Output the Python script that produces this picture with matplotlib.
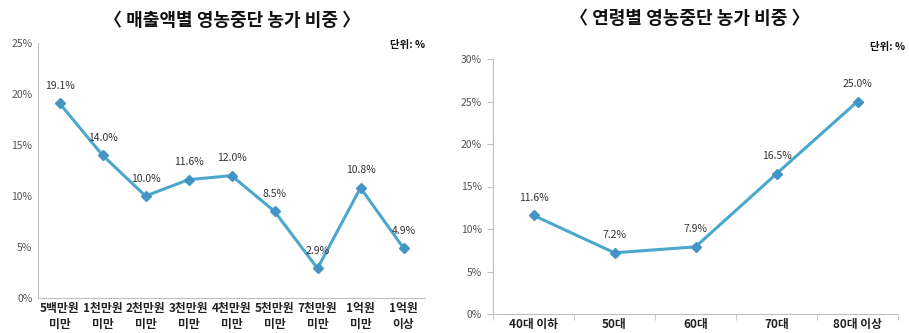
import matplotlib
matplotlib.use("Agg")
import matplotlib.pyplot as plt
from matplotlib.ticker import FuncFormatter

plt.rcParams['font.family'] = ['Noto Sans CJK KR', 'DejaVu Sans']

sales_cats = ["5백만원\n미만", "1천만원\n미만", "2천만원\n미만", "3천만원\n미만", "4천만원\n미만",
              "5천만원\n미만", "7천만원\n미만", "1억원\n미만", "1억원\n이상"]
sales_vals = [19.1, 14.0, 10.0, 11.6, 12.0, 8.5, 2.9, 10.8, 4.9]

age_cats = ["40대 이하", "50대", "60대", "70대", "80대 이상"]
age_vals = [11.6, 7.2, 7.9, 16.5, 25.0]

LINE = "#4BA8CC"
MARK = "#4494C6"
TICK = "#555555"

fig = plt.figure(figsize=(9.09, 3.33), dpi=100)
fig.patch.set_facecolor("white")

def style(ax, ymax, step, ticks_x):
    for s in ["top", "right"]:
        ax.spines[s].set_visible(False)
    ax.spines["left"].set_color("#BFBFBF")
    ax.spines["bottom"].set_color("#BFBFBF")
    ax.set_ylim(0, ymax)
    ax.set_yticks(range(0, ymax + 1, step))
    ax.yaxis.set_major_formatter(FuncFormatter(lambda v, p: f"{int(v)}%"))
    ax.tick_params(axis="y", labelsize=7.5, colors="#BFBFBF", labelcolor=TICK,
                   length=(4 if ticks_x else 0), pad=4)
    ax.tick_params(axis="x", labelsize=8.5, labelcolor="#222222", colors="#BFBFBF",
                   length=0, pad=3)
    for lbl in ax.get_xticklabels():
        lbl.set_fontweight("bold")

# Left chart
ax1 = fig.add_axes([38/909, 1-298/333, (425-38)/909, (298-43)/333])
x1 = list(range(len(sales_cats)))
ax1.plot(x1, sales_vals, color=LINE, lw=2.2, marker="D", ms=5.5,
         markerfacecolor=MARK, markeredgecolor=MARK, zorder=3)
ax1.set_xlim(-0.5, len(sales_cats) - 0.5)
ax1.set_xticks(x1)
ax1.set_xticklabels(sales_cats, linespacing=1.3)
style(ax1, 25, 5, False)
for xi, v in zip(x1, sales_vals):
    ax1.annotate(f"{v:.1f}%", (xi, v), xytext=(0, 9), textcoords="offset points",
                 ha="center", va="bottom", fontsize=7.5, color="#333333")
fig.text(232/909, 1-20/333, "〈 매출액별 영농중단 농가 비중 〉", ha="center", va="center",
         fontsize=13, fontweight="bold", color="#111111")
fig.text(425/909, 1-45/333, "단위: %", ha="right", va="center", fontsize=7.5,
         fontweight="bold", color="#111111")

# Right chart
ax2 = fig.add_axes([493/909, 1-314/333, (898-493)/909, (314-59)/333])
x2 = list(range(len(age_cats)))
ax2.plot(x2, age_vals, color=LINE, lw=2.2, marker="D", ms=5.5,
         markerfacecolor=MARK, markeredgecolor=MARK, zorder=3)
ax2.set_xlim(-0.5, len(age_cats) - 0.5)
ax2.set_xticks(x2)
ax2.set_xticklabels(age_cats)
ax2.set_xticks([i - 0.5 for i in range(len(age_cats) + 1)], minor=True)
ax2.tick_params(axis="x", which="minor", length=4, color="#BFBFBF")
style(ax2, 30, 5, True)
for xi, v in zip(x2, age_vals):
    ax2.annotate(f"{v:.1f}%", (xi, v), xytext=(0, 9), textcoords="offset points",
                 ha="center", va="bottom", fontsize=7.5, color="#333333")
fig.text(690/909, 1-18/333, "〈 연령별 영농중단 농가 비중 〉", ha="center", va="center",
         fontsize=13, fontweight="bold", color="#111111")
fig.text(905/909, 1-47/333, "단위: %", ha="right", va="center", fontsize=7.5,
         fontweight="bold", color="#111111")

fig.savefig("out.png", dpi=100, facecolor="white")
